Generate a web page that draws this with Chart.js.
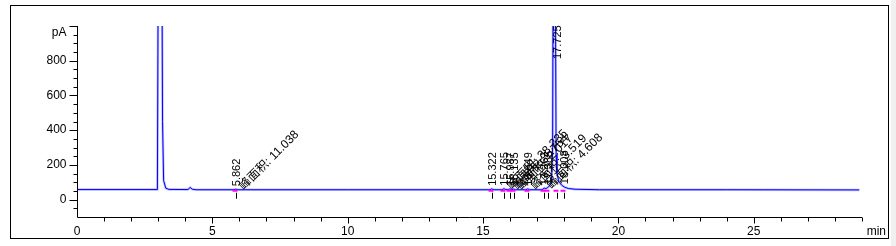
<!DOCTYPE html>
<html>
<head>
<meta charset="utf-8">
<script src="https://cdn.jsdelivr.net/npm/chart.js@4.4.1/dist/chart.umd.min.js"></script>
<style>
    html, body { margin: 0; padding: 0; background: #fff; }
    #wrap { width: 896px; height: 246px; }
</style>
</head>
<body>
<div id="wrap"><canvas id="chart" width="896" height="246"></canvas></div>
<script>
// --- DATA: retention time (min) vs detector signal (pA) ---
const times  = [0, 2.40, 2.97, 3.00, 3.14, 3.16, 3.20, 3.28, 3.40, 4.10, 4.18, 4.26, 4.40,
                5.80, 5.86, 5.94, 10.0, 15.26, 15.32, 15.40, 15.70, 15.77, 15.84, 15.93, 15.99,
                16.06, 16.13, 16.20, 16.58, 16.65, 16.72, 17.18, 17.26, 17.32, 17.39, 17.46,
                17.53, 17.57, 17.59, 17.67, 17.70, 17.73, 17.80, 17.90, 18.01, 18.15, 18.40,
                19.30, 24.0, 28.90];
const signal = [58, 58, 58, 1300, 1300, 450, 110, 66, 59, 58, 70, 60, 57,
                57, 60, 57, 57, 57, 62, 57, 57, 63, 58, 57, 62,
                58, 61, 57, 57, 62, 57, 57, 66, 63, 70, 80,
                105, 300, 1300, 1300, 260, 150, 105, 84, 72, 64, 60,
                57, 57, 56];

// integrated peaks
const peakTimes   = [5.862, 15.322, 15.765, 15.987, 16.135, 16.649, 17.262, 17.385, 17.725, 18.008];
const peakHeights = [60, 62, 63, 62, 61, 62, 66, 70, 1900, 72];
const peakLabels  = ['5.862', '15.322', '15.765', '15.987', '16.135', '16.649', '17.262', '17.385', '17.725', '18.008'];
const areaLabels  = ['峰面积: 11.038', '', '峰面积: 38.235', '峰面积: 1.754', '峰面积: 2.017',
                     '峰面积: 3.519', '峰面积: 4.608', '', '', ''];
const baselineLevel = 57;

// axes
const xTicks = [0, 5, 10, 15, 20, 25];
const yTicks = [0, 200, 400, 600, 800];
const xRange = [0, 29];
const yRange = [-100, 1000];

const points = times.map((t, i) => ({ x: t, y: signal[i] }));

// --- DRAWING HELPERS ---
const FONT = '"Liberation Sans", Arial, "Noto Sans CJK SC", sans-serif';

const framePlugin = {
    id: 'frame',
    beforeDraw(chart) {
        const ctx = chart.ctx;
        ctx.save();
        ctx.fillStyle = '#ffffff';
        ctx.fillRect(0, 0, 896, 246);
        ctx.fillStyle = '#f0f0f0';
        ctx.fillRect(891, 0, 5, 246);
        ctx.strokeStyle = '#000';
        ctx.lineWidth = 1;
        ctx.strokeRect(10.5, 5.5, 878, 233);
        ctx.restore();
    }
};

const axesPlugin = {
    id: 'axes',
    afterDatasetsDraw(chart) {
        const ctx = chart.ctx;
        const xs = chart.scales.x, ys = chart.scales.y;
        const area = chart.chartArea;
        const ax = Math.round(area.left) + 0.5;
        const ay = Math.round(area.bottom) + 0.5;
        ctx.save();
        ctx.strokeStyle = '#000';
        ctx.fillStyle = '#000';
        ctx.lineWidth = 1;

        // axis lines
        ctx.beginPath();
        ctx.moveTo(ax, Math.round(area.top));
        ctx.lineTo(ax, ay);
        ctx.lineTo(Math.round(area.right), ay);
        ctx.stroke();

        // y ticks, minor every 50
        ctx.beginPath();
        for (let v = yRange[0] + 50; v <= yRange[1]; v += 50) {
            const py = Math.round(ys.getPixelForValue(v)) + 0.5;
            const len = v % 200 === 0 ? 8 : 4;
            ctx.moveTo(ax - len, py);
            ctx.lineTo(ax, py);
        }
        // x ticks, minor every 1 min
        for (let t = 1; t <= xRange[1]; t++) {
            const px = Math.round(xs.getPixelForValue(t)) + 0.5;
            const len = t % 5 === 0 ? 6 : 4;
            ctx.moveTo(px, ay);
            ctx.lineTo(px, ay + len);
        }
        ctx.stroke();

        ctx.font = '12px ' + FONT;
        ctx.textAlign = 'right';
        ctx.textBaseline = 'middle';
        yTicks.forEach(v => ctx.fillText(String(v), ax - 11, ys.getPixelForValue(v)));
        ctx.fillText('pA', ax - 11, ys.getPixelForValue(yRange[1]) + 7);

        ctx.textAlign = 'center';
        xTicks.forEach(t => ctx.fillText(String(t), xs.getPixelForValue(t), ay + 14));
        ctx.textAlign = 'right';
        ctx.fillText('min', 886, ay + 14);

        // peak markers and labels
        const baseY = ys.getPixelForValue(baselineLevel);
        peakTimes.forEach((t, i) => {
            const px = Math.round(xs.getPixelForValue(t)) + 0.5;
            ctx.strokeStyle = '#ff00ff';
            ctx.lineWidth = 2;
            ctx.beginPath();
            ctx.moveTo(px - 4, baseY + 1);
            ctx.lineTo(px + 1, baseY + 1);
            ctx.stroke();
            ctx.strokeStyle = '#000';
            ctx.lineWidth = 1;
            ctx.beginPath();
            ctx.moveTo(px, baseY + 3);
            ctx.lineTo(px, baseY + 9);
            ctx.stroke();

            const apex = Math.max(ys.getPixelForValue(peakHeights[i]), area.top + 36);
            ctx.font = '11px ' + FONT;
            ctx.textAlign = 'left';
            ctx.textBaseline = 'middle';
            ctx.save();
            ctx.translate(px, apex - 3);
            ctx.rotate(-Math.PI / 2);
            ctx.fillText(peakLabels[i], 0, 0);
            ctx.restore();

            if (areaLabels[i]) {
                ctx.save();
                ctx.font = '12px ' + FONT;
                ctx.translate(px + 5, apex - 1);
                ctx.rotate(-Math.PI / 4);
                ctx.fillText(areaLabels[i], 0, 0);
                ctx.restore();
            }
        });
        ctx.restore();
    }
};

// --- CHART ---
new Chart(document.getElementById('chart').getContext('2d'), {
    type: 'line',
    data: {
        datasets: [
            {
                data: points,
                borderColor: '#0000ff',
                borderWidth: 1,
                pointRadius: 0,
                tension: 0,
                clip: 0,
                order: 1
            },
            {
                data: points,
                borderColor: 'rgba(150, 150, 255, 0.6)',
                borderWidth: 2.5,
                pointRadius: 0,
                tension: 0,
                clip: 0,
                order: 2
            }
        ]
    },
    options: {
        responsive: false,
        animation: false,
        events: [],
        layout: { padding: { left: 77, right: 34, top: 26, bottom: 29 } },
        plugins: { legend: { display: false }, tooltip: { enabled: false } },
        scales: {
            x: { type: 'linear', min: xRange[0], max: xRange[1], display: false },
            y: { type: 'linear', min: yRange[0], max: yRange[1], display: false }
        }
    },
    plugins: [framePlugin, axesPlugin]
});
</script>
</body>
</html>
